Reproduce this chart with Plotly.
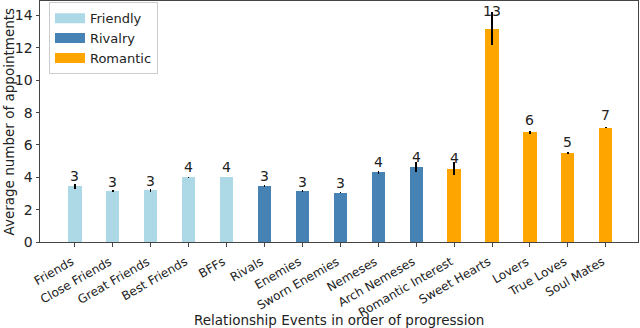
import plotly.graph_objects as go

# Relationship events, in order of progression
events = ['Friends', 'Close Friends', 'Great Friends', 'Best Friends', 'BFFs',
          'Rivals', 'Enemies', 'Sworn Enemies', 'Nemeses', 'Arch Nemeses',
          'Romantic Interest', 'Sweet Hearts', 'Lovers', 'True Loves', 'Soul Mates']
avg_appointments = [3.45, 3.14, 3.2, 4.0, 4.0,
                    3.45, 3.14, 3.04, 4.3, 4.61,
                    4.53, 13.2, 6.78, 5.5, 7.06]
errors = [0.15, 0.05, 0.08, 0.03, 0.0,
          0.08, 0.05, 0.03, 0.1, 0.31,
          0.4, 1.05, 0.08, 0.08, 0.03]
groups = ['Friendly'] * 5 + ['Rivalry'] * 5 + ['Romantic'] * 5
group_colors = {'Friendly': '#ADD8E6', 'Rivalry': '#4682B4', 'Romantic': '#FFA500'}

positions = list(range(len(events)))

fig = go.Figure()

for group, color in group_colors.items():
    idx = [i for i, g in enumerate(groups) if g == group]
    fig.add_trace(go.Bar(
        x=[positions[i] for i in idx],
        y=[avg_appointments[i] for i in idx],
        error_y=dict(type='data', array=[errors[i] for i in idx],
                     color='black', thickness=1.5, width=0),
        marker=dict(color=color, line=dict(width=0)),
        width=0.35,
        showlegend=False,
    ))
    # wide patch-like legend entry
    fig.add_trace(go.Scatter(
        x=[None], y=[None], mode='lines', name=group,
        line=dict(color=color, width=10),
    ))

# value labels above bars (truncated to int)
for x, v in zip(positions, avg_appointments):
    fig.add_annotation(x=x, y=v * 1.05, text=str(int(v)), showarrow=False,
                       yanchor='bottom', yshift=-3,
                       font=dict(size=14, color='#222222'))

fig.add_annotation(text='Relationship Events in order of progression',
                   xref='paper', yref='paper', x=0.5, y=-0.324,
                   xanchor='center', yanchor='middle', showarrow=False,
                   font=dict(size=13.5, color='#222222'))
fig.add_annotation(text='Average number of appointments',
                   xref='paper', yref='paper', x=-0.0535, y=0.5,
                   xanchor='center', yanchor='middle', textangle=-90,
                   showarrow=False, font=dict(size=13.5, color='#222222'))

fig.update_layout(
    width=640, height=328,
    margin=dict(l=40, r=2, t=1, b=86, autoexpand=False),
    plot_bgcolor='white', paper_bgcolor='white',
    font=dict(family='DejaVu Sans', color='#222222'),
    bargap=0,
    legend=dict(x=0.015, y=0.995, xanchor='left', yanchor='top',
                bgcolor='rgba(255,255,255,0.8)', bordercolor='#cccccc',
                borderwidth=1, font=dict(size=13), tracegroupgap=0,
                itemwidth=30),
)
fig.update_xaxes(
    range=[-0.92, 14.85], tickvals=positions,
    # trailing nbsp nudges the rotated labels left of the tick, like ha='right'
    ticktext=[e + '\u00a0' for e in events],
    tickangle=-30, tickfont=dict(size=12), automargin=False,
    ticklabelstandoff=2,
    showline=True, linecolor='#444444', linewidth=1, mirror=True,
    ticks='outside', ticklen=3.5, tickcolor='#444444', showgrid=False,
    zeroline=False,
)
fig.update_yaxes(
    range=[0, 14.9], dtick=2, tickfont=dict(size=14), automargin=False,
    showline=True, linecolor='#444444', linewidth=1, mirror=True,
    ticks='outside', ticklen=3.5, tickcolor='#444444', showgrid=False,
    zeroline=False,
)

# drop the default page margin so the figure fills the window
fig.write_html("out.html", config={'displayModeBar': False},
               post_script="document.body.style.margin='0';")
